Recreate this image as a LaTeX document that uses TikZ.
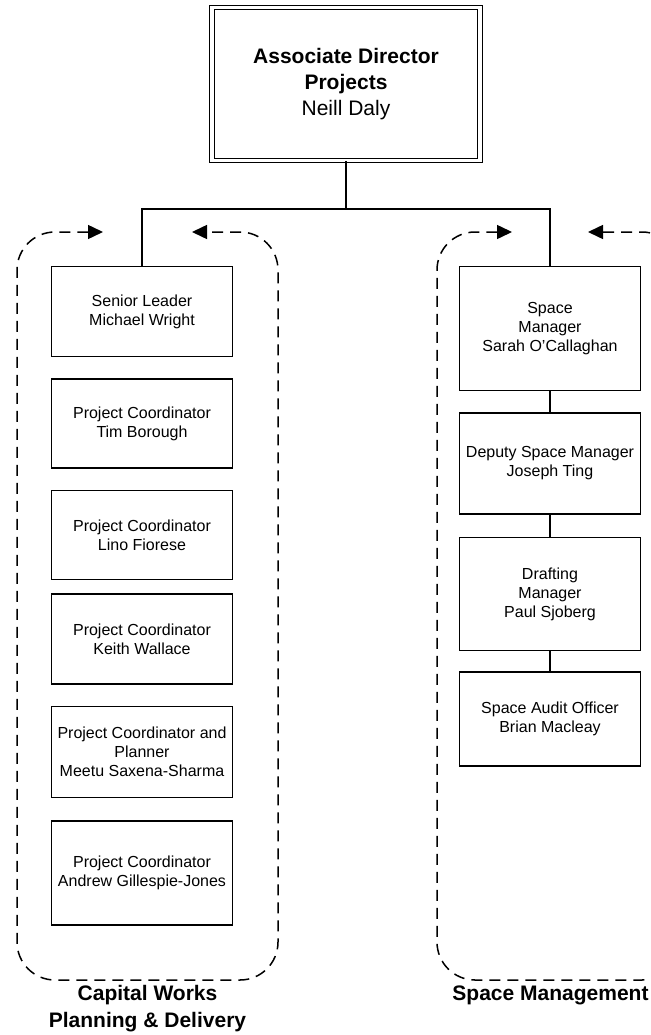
\documentclass[tikz,border=0pt]{standalone}
\usepackage{fontspec}
\setmainfont{Liberation Sans}
\usetikzlibrary{positioning,arrows.meta,shadows}

\begin{document}
\begin{tikzpicture}[x=1pt, y=-1pt, line width=1.5pt, node distance=21pt]
	\tikzstyle{head}=[draw=black, fill=white, double=white, double distance=3.5pt, line width=1pt, minimum width=268pt, minimum height=153pt, align=center, font=\fontsize{21}{26}\selectfont, drop shadow={shadow xshift=2pt, shadow yshift=-2pt, fill=black!30}]
	\tikzstyle{person}=[draw=black, fill=white, line width=1.5pt, minimum width=181pt, inner sep=2pt, align=center, font=\fontsize{16}{19}\selectfont]
	\tikzstyle{grp}=[line width=1.5pt, dash pattern=on 11pt off 7pt, rounded corners=38pt, arrows={Triangle[length=15pt,width=14pt]-Triangle[length=15pt,width=14pt]}]
	\tikzstyle{grplabel}=[align=center, font=\bfseries\fontsize{21}{27}\selectfont]
	\clip (0,0) rectangle (650,1035);
	
	\node[head]    (dir) at (346,84)   {\textbf{Associate Director}\\\textbf{Projects}\\Neill Daly};
	\coordinate    (hub) at (346,209);
	
	\node[person, minimum height=90pt]    (sl) at (142,311.5)   {Senior Leader\\Michael Wright};
	\node[person, minimum height=89pt]    (tim)[below=of sl]   {Project Coordinator\\Tim Borough};
	\node[person, minimum height=89pt]    (lino)[below=of tim]   {Project Coordinator\\Lino Fiorese};
	\node[person, minimum height=90pt]    (keith)[below=13pt of lino]   {Project Coordinator\\Keith Wallace};
	\node[person, minimum height=91pt]    (meetu)[below=of keith]   {Project Coordinator and\\Planner\\Meetu Saxena-Sharma};
	\node[person, minimum height=104pt]    (andrew)[below=22pt of meetu]   {Project Coordinator\\Andrew Gillespie-Jones};
	
	\node[person, minimum height=124pt]    (sm) at (550,328.5)   {Space\\Manager\\Sarah O’Callaghan};
	\node[person, minimum height=101pt]    (dep)[below=of sm]   {Deputy Space Manager\\Joseph Ting};
	\node[person, minimum height=113pt]    (draft)[below=22pt of dep]   {Drafting\\Manager\\Paul Sjoberg};
	\node[person, minimum height=94pt]    (audit)[below=20pt of draft]   {Space Audit Officer\\Brian Macleay};
	
	\draw (dir.south) -- (hub);
	\draw (sl.north) |- (hub) -| (sm.north);
	\draw (sm.south) -- (dep.north)
	(dep.south) -- (draft.north)
	(draft.south) -- (audit.north);
	
	\draw[grp] (103,232) -| (17,980) -| (278,232) -- (192,232);
	\draw[grp] (512,232) -| (437,980) -| (680,232) -- (588,232);
	
	\node[grplabel]    (cwlbl) at (147.5,1008.5)   {Capital Works\\Planning \& Delivery};
	\node[grplabel]    (smlbl) at (550.5,995)   {Space Management};
\end{tikzpicture}
\end{document}
